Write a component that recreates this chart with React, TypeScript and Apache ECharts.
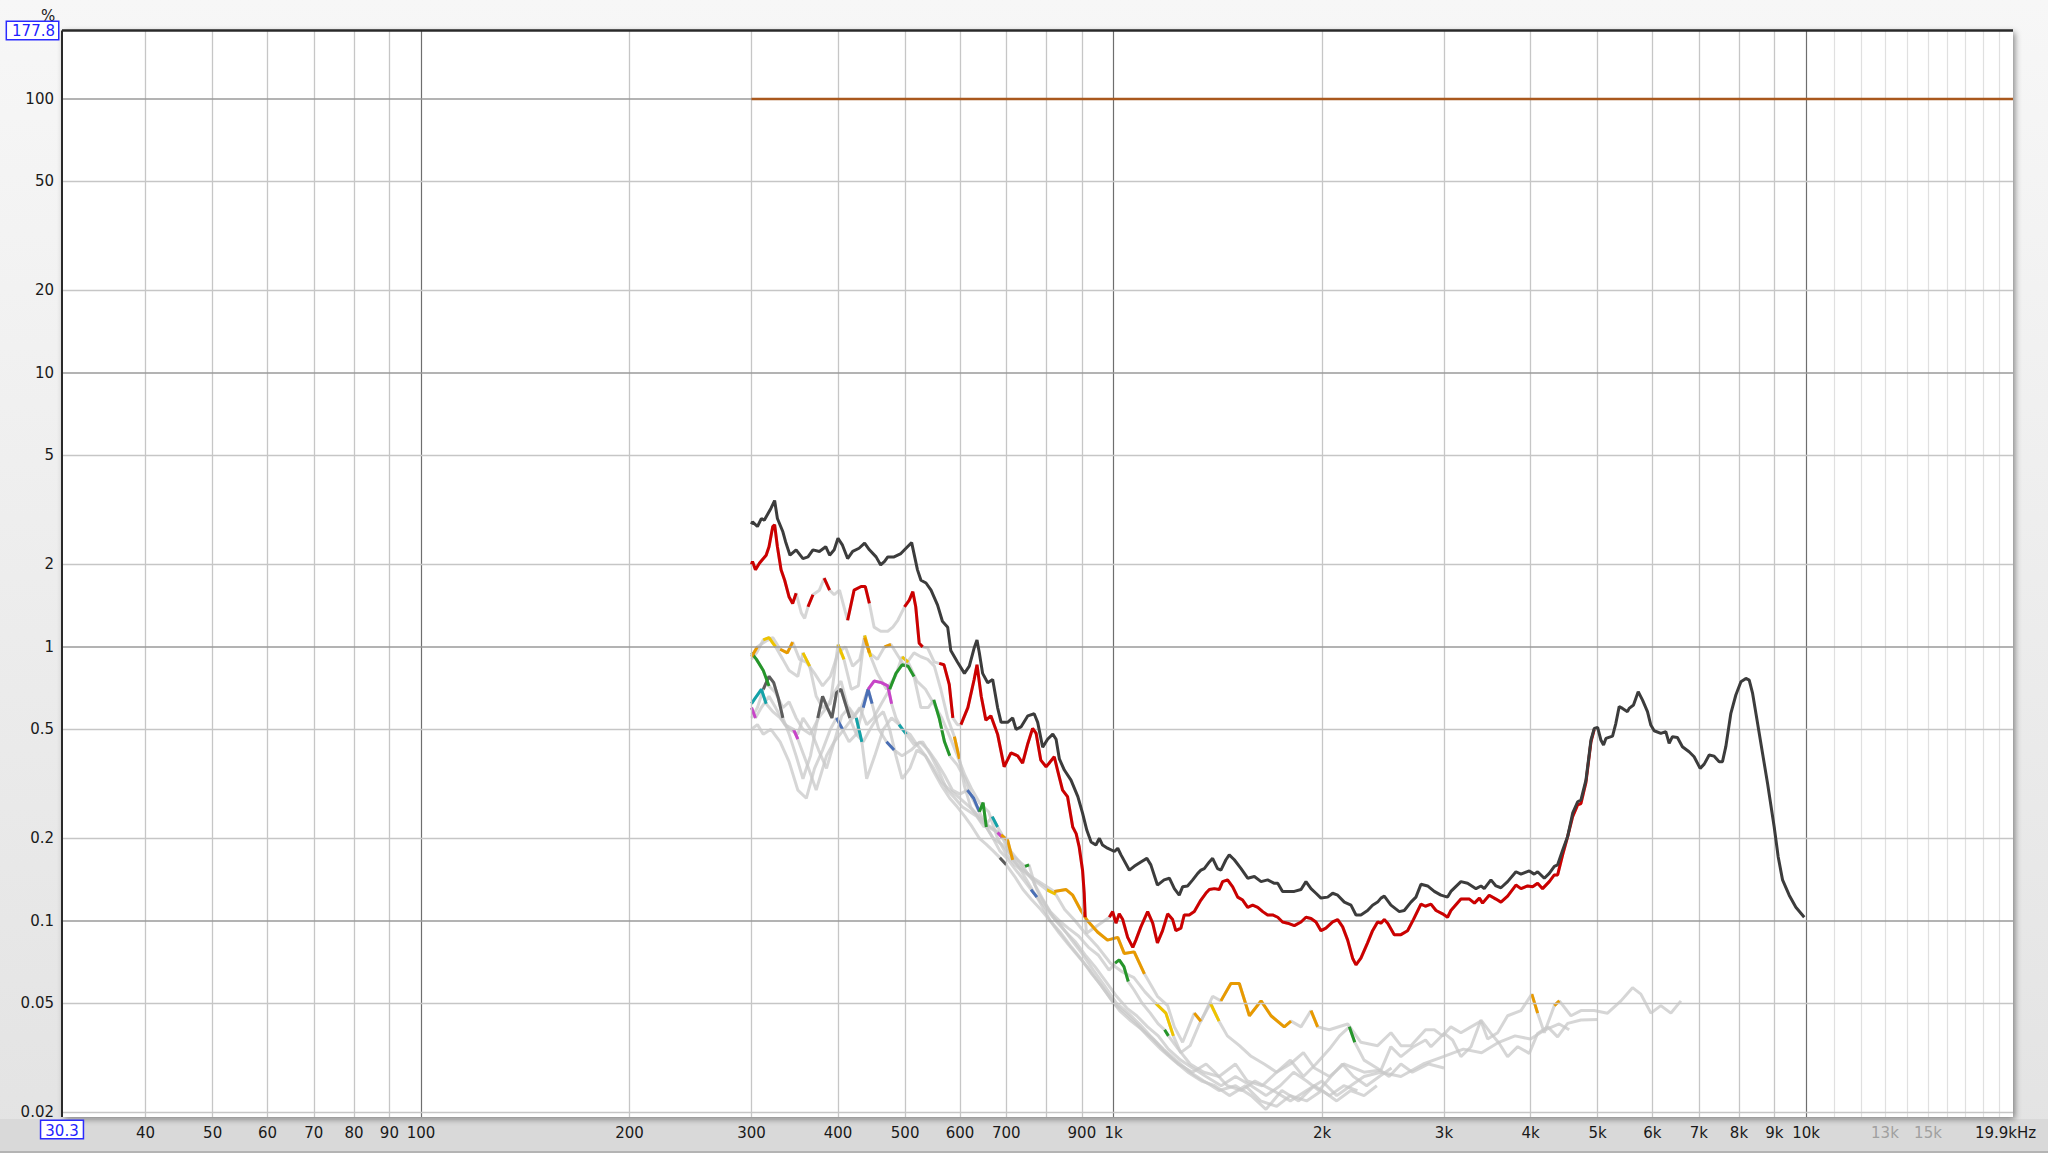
import React, { useEffect, useRef } from "react";
import * as echarts from "echarts";

const FONT = "DejaVu Sans";
const FREQ_MIN = 30.3;
const FREQ_MAX = 19900;
const PCT_MIN = 0.0192;
const PCT_MAX = 177.8;

// ---- axes: grid lines and tick labels ----
const xGridMinor = [40, 50, 60, 70, 80, 90, 200, 300, 400, 500, 600, 700, 800, 900, 2000, 3000, 4000, 5000, 6000, 7000, 8000, 9000];
const xGridDecade = [100, 1000, 10000];
const xGridFaint = [11000, 12000, 13000, 14000, 15000, 16000, 17000, 18000, 19000];
const xTickLabels: [number, string][] = [
  [40, "40"], [50, "50"], [60, "60"], [70, "70"], [80, "80"], [90, "90"], [100, "100"],
  [200, "200"], [300, "300"], [400, "400"], [500, "500"], [600, "600"], [700, "700"], [900, "900"],
  [1000, "1k"], [2000, "2k"], [3000, "3k"], [4000, "4k"], [5000, "5k"], [6000, "6k"], [7000, "7k"],
  [8000, "8k"], [9000, "9k"], [10000, "10k"],
];
const xFaintLabels: [number, string][] = [[13000, "13k"], [15000, "15k"]];
const yGridMinor = [50, 20, 5, 2, 0.5, 0.2, 0.05, 0.02];
const yGridDecade = [100, 10, 1, 0.1];
const yTickLabels: [number, string][] = [
  [100, "100"], [50, "50"], [20, "20"], [10, "10"], [5, "5"], [2, "2"], [1, "1"],
  [0.5, "0.5"], [0.2, "0.2"], [0.1, "0.1"], [0.05, "0.05"], [0.02, "0.02"],
];

// ---- series data: [frequency Hz, distortion %] ----
const FUND_LEVEL: [number, number][] = [[300, 100], [19900, 100]];

const THD: [number, number][] = [
  [300, 2.8], [301, 2.86], [306, 2.75], [310, 2.94], [313, 2.9], [317, 3.07], [320, 3.2], [324, 3.42], [327, 2.94], [333, 2.63],
  [336, 2.42], [341, 2.16], [348, 2.26], [356, 2.1], [362, 2.13], [368, 2.26], [376, 2.23], [384, 2.32], [389, 2.16], [395, 2.26],
  [400, 2.49], [406, 2.35], [413, 2.1], [420, 2.23], [429, 2.29], [437, 2.39], [444, 2.26], [454, 2.13], [461, 1.99], [467, 2.05],
  [472, 2.13], [482, 2.13], [493, 2.19], [504, 2.32], [511, 2.4], [515, 2.19], [521, 1.91], [527, 1.75], [536, 1.71], [545, 1.61],
  [557, 1.42], [566, 1.24], [576, 1.18], [582, 0.97], [595, 0.88], [609, 0.8], [619, 0.85], [629, 0.99], [635, 1.06], [640, 0.95],
  [647, 0.8], [658, 0.74], [669, 0.76], [680, 0.6], [688, 0.53], [703, 0.53], [715, 0.55], [723, 0.5], [735, 0.51], [752, 0.56],
  [768, 0.57], [777, 0.53], [790, 0.43], [803, 0.46], [817, 0.48], [826, 0.46], [835, 0.39], [849, 0.355], [868, 0.326], [888, 0.284],
  [902, 0.247], [915, 0.214], [928, 0.194], [943, 0.189], [954, 0.2], [964, 0.189], [980, 0.184], [1003, 0.179], [1014, 0.184], [1025, 0.174],
  [1054, 0.153], [1071, 0.158], [1095, 0.164], [1117, 0.169], [1132, 0.16], [1157, 0.135], [1183, 0.141], [1204, 0.143], [1224, 0.131], [1244, 0.124],
  [1258, 0.133], [1279, 0.134], [1301, 0.141], [1323, 0.149], [1337, 0.153], [1352, 0.155], [1375, 0.164], [1390, 0.169], [1413, 0.155], [1429, 0.153],
  [1453, 0.167], [1469, 0.174], [1494, 0.167], [1528, 0.155], [1562, 0.143], [1597, 0.145], [1633, 0.139], [1669, 0.141], [1707, 0.137], [1726, 0.137],
  [1754, 0.128], [1784, 0.128], [1824, 0.128], [1865, 0.13], [1896, 0.139], [1928, 0.131], [1960, 0.126], [1993, 0.121], [2038, 0.122], [2072, 0.126],
  [2107, 0.124], [2154, 0.117], [2202, 0.114], [2239, 0.105], [2276, 0.105], [2327, 0.109], [2366, 0.114], [2406, 0.117], [2433, 0.121], [2460, 0.123],
  [2515, 0.114], [2586, 0.108], [2629, 0.109], [2688, 0.117], [2733, 0.122], [2779, 0.136], [2841, 0.134], [2905, 0.128], [2970, 0.124], [3036, 0.122],
  [3070, 0.128], [3174, 0.139], [3245, 0.137], [3337, 0.131], [3393, 0.134], [3430, 0.131], [3507, 0.141], [3566, 0.134], [3626, 0.132], [3707, 0.139],
  [3811, 0.151], [3875, 0.148], [3984, 0.152], [4050, 0.148], [4096, 0.151], [4188, 0.143], [4258, 0.149], [4330, 0.158], [4378, 0.16], [4451, 0.181],
  [4526, 0.203], [4602, 0.247], [4679, 0.272], [4731, 0.276], [4810, 0.326], [4891, 0.457], [4945, 0.504], [5000, 0.508], [5055, 0.457], [5100, 0.438],
  [5140, 0.463], [5255, 0.472], [5313, 0.526], [5372, 0.605], [5432, 0.596], [5523, 0.58], [5553, 0.596], [5634, 0.613], [5723, 0.686], [5806, 0.639],
  [5902, 0.58], [5968, 0.518], [6035, 0.494], [6170, 0.483], [6273, 0.49], [6343, 0.444], [6413, 0.47], [6520, 0.467], [6629, 0.432], [6778, 0.414],
  [6892, 0.397], [7032, 0.36], [7127, 0.373], [7246, 0.403], [7368, 0.399], [7491, 0.381], [7574, 0.381], [7658, 0.432], [7788, 0.572], [7918, 0.667],
  [8053, 0.746], [8187, 0.767], [8278, 0.756], [8372, 0.676], [8511, 0.526], [8654, 0.408], [8799, 0.317], [8995, 0.22], [9116, 0.171], [9248, 0.141],
  [9455, 0.124], [9667, 0.112], [9940, 0.103],
];

const H2: [number, number][] = [
  [300, 2.0], [301, 2.05], [304, 1.91], [308, 2.02], [311, 2.08], [315, 2.16], [318, 2.32], [322, 2.75], [324, 2.79], [327, 2.32],
  [331, 1.91], [335, 1.75], [340, 1.52], [344, 1.44], [348, 1.57], [354, 1.33], [358, 1.27], [362, 1.4], [368, 1.55], [376, 1.61],
  [382, 1.78], [389, 1.61], [395, 1.55], [402, 1.61], [413, 1.25], [422, 1.61], [432, 1.66], [438, 1.66], [444, 1.44], [451, 1.18],
  [461, 1.14], [472, 1.14], [480, 1.18], [488, 1.25], [499, 1.4], [507, 1.48], [513, 1.59], [518, 1.4], [524, 1.03], [530, 1.0],
  [539, 0.99], [551, 0.88], [560, 0.87], [569, 0.86], [579, 0.73], [586, 0.55], [595, 0.52], [602, 0.52], [616, 0.6], [629, 0.76],
  [635, 0.86], [644, 0.66], [654, 0.54], [665, 0.56], [680, 0.48], [695, 0.365], [711, 0.41], [727, 0.4], [739, 0.376], [752, 0.444],
  [764, 0.504], [773, 0.483], [785, 0.386], [799, 0.365], [807, 0.376], [821, 0.397], [830, 0.355], [844, 0.3], [858, 0.284], [863, 0.261],
  [873, 0.22], [883, 0.208], [892, 0.186], [902, 0.153], [907, 0.126], [910, 0.103], [914, 0.09], [986, 0.103], [997, 0.108], [1008, 0.098],
  [1019, 0.106], [1031, 0.101], [1048, 0.087], [1066, 0.08], [1077, 0.085], [1095, 0.095], [1120, 0.108], [1139, 0.098], [1157, 0.083], [1177, 0.092],
  [1197, 0.106], [1217, 0.101], [1230, 0.092], [1251, 0.094], [1265, 0.105], [1286, 0.105], [1308, 0.108], [1337, 0.119], [1359, 0.126], [1375, 0.13],
  [1398, 0.131], [1421, 0.13], [1437, 0.139], [1461, 0.141], [1486, 0.133], [1511, 0.122], [1536, 0.119], [1562, 0.112], [1588, 0.114], [1615, 0.112],
  [1642, 0.108], [1669, 0.105], [1697, 0.105], [1726, 0.103], [1754, 0.099], [1784, 0.098], [1824, 0.096], [1865, 0.099], [1896, 0.103], [1928, 0.102],
  [1960, 0.099], [1993, 0.092], [2026, 0.094], [2072, 0.099], [2107, 0.101], [2142, 0.095], [2178, 0.085], [2214, 0.073], [2239, 0.069], [2276, 0.073],
  [2327, 0.083], [2366, 0.092], [2406, 0.099], [2433, 0.098], [2460, 0.101], [2488, 0.098], [2543, 0.089], [2600, 0.089], [2658, 0.092], [2710, 0.101],
  [2779, 0.115], [2820, 0.113], [2873, 0.115], [2922, 0.109], [2986, 0.106], [3036, 0.103], [3070, 0.109], [3174, 0.12], [3265, 0.12], [3320, 0.116],
  [3375, 0.121], [3411, 0.116], [3487, 0.124], [3566, 0.12], [3626, 0.117], [3707, 0.123], [3811, 0.135], [3875, 0.131], [3962, 0.134], [4029, 0.133],
  [4096, 0.137], [4164, 0.131], [4258, 0.139], [4330, 0.147], [4378, 0.147], [4451, 0.174], [4526, 0.203], [4602, 0.24], [4679, 0.265], [4731, 0.268],
  [4810, 0.32], [4891, 0.45], [4945, 0.5],
];
const H2_COLOURED: [number, number][] = [
  [300, 304], [308, 331], [335, 340], [344, 350], [362, 372], [380, 389], [413, 447], [497, 530], [552, 589], [602, 912], [986, 4945],
];

const H3: [number, number][] = [
  [300, 0.92], [306, 1.0], [315, 1.05], [322, 1.08], [330, 0.98], [338, 0.95], [344, 1.04], [352, 0.9], [360, 0.88], [370, 0.8],
  [380, 0.72], [390, 0.78], [400, 0.95], [410, 1.0], [420, 0.85], [430, 0.9], [437, 1.08], [444, 0.95], [456, 0.9], [467, 1.0],
  [477, 1.02], [488, 0.93], [499, 0.85], [515, 0.95], [527, 0.92], [539, 0.9], [551, 0.85], [563, 0.7], [576, 0.55], [589, 0.47],
  [599, 0.39], [609, 0.31], [622, 0.26], [644, 0.23], [665, 0.22], [688, 0.206], [703, 0.197], [715, 0.167], [760, 0.145], [821, 0.128],
  [854, 0.13], [873, 0.124], [897, 0.109], [917, 0.1], [948, 0.091], [980, 0.085], [1014, 0.087], [1036, 0.076], [1071, 0.077], [1108, 0.064],
  [1157, 0.053], [1197, 0.049], [1224, 0.041], [1258, 0.036], [1308, 0.046], [1337, 0.043], [1390, 0.053], [1429, 0.051], [1477, 0.059], [1519, 0.059],
  [1571, 0.045], [1633, 0.051], [1688, 0.045], [1764, 0.041], [1804, 0.043], [1865, 0.041], [1928, 0.047], [1971, 0.041], [2049, 0.04], [2178, 0.042],
  [2276, 0.036], [2406, 0.035], [2515, 0.039], [2600, 0.035], [2688, 0.035], [2822, 0.04], [2905, 0.04], [2986, 0.038], [3070, 0.041], [3174, 0.039],
  [3282, 0.041], [3393, 0.043], [3469, 0.037], [3586, 0.039], [3707, 0.045], [3875, 0.047], [4018, 0.054], [4096, 0.046], [4188, 0.039], [4330, 0.049],
  [4403, 0.051], [4576, 0.045], [4731, 0.047], [4945, 0.047], [5168, 0.046], [5404, 0.051], [5616, 0.057], [5774, 0.054], [5970, 0.046], [6170, 0.049],
  [6380, 0.046], [6596, 0.051],
];
const H3_COLOURED: [number, number][] = [
  [300, 312], [330, 346], [395, 404], [435, 445], [467, 480], [505, 520], [589, 605], [688, 716], [821, 990], [1014, 1108],
  [1300, 1340], [1429, 1571], [1600, 1690], [1740, 1810], [1890, 1975], [4000, 4100], [4330, 4410],
];

const H4: [number, number][] = [
  [300, 0.95], [305, 0.9], [312, 0.82], [318, 0.72], [325, 0.68], [333, 0.6], [340, 0.63], [348, 0.55], [356, 0.5], [365, 0.48],
  [375, 0.55], [385, 0.6], [395, 0.68], [404, 0.75], [412, 0.62], [420, 0.55], [430, 0.6], [440, 0.52], [450, 0.55], [462, 0.62],
  [475, 0.7], [485, 0.8], [495, 0.86], [505, 0.85], [515, 0.78], [527, 0.6], [540, 0.6], [550, 0.64], [560, 0.55], [570, 0.45],
  [580, 0.4], [595, 0.37], [610, 0.33], [625, 0.28], [640, 0.25], [648, 0.27], [655, 0.22], [670, 0.2], [690, 0.19], [710, 0.175],
  [730, 0.165], [745, 0.158], [755, 0.16], [770, 0.135], [790, 0.12], [810, 0.108], [835, 0.1], [860, 0.094], [890, 0.088], [920, 0.08],
  [950, 0.075], [985, 0.066], [1005, 0.07], [1019, 0.072], [1035, 0.068], [1050, 0.06], [1070, 0.056], [1100, 0.05], [1130, 0.046], [1160, 0.042],
  [1185, 0.04], [1200, 0.038], [1240, 0.034], [1290, 0.03], [1350, 0.028], [1420, 0.027], [1500, 0.03], [1560, 0.026], [1640, 0.025], [1720, 0.028],
  [1800, 0.031], [1880, 0.027], [1960, 0.03], [2050, 0.034], [2120, 0.038], [2190, 0.041], [2230, 0.036], [2300, 0.031], [2400, 0.029], [2500, 0.027],
  [2600, 0.03], [2700, 0.028], [2850, 0.03], [3000, 0.029],
];
const H4_COLOURED: [number, number][] = [
  [300, 318], [475, 520], [545, 580], [640, 656], [745, 760], [1000, 1060], [1180, 1200], [2190, 2230],
];

const H5: [number, number][] = [
  [300, 0.9], [305, 0.95], [312, 1.06], [318, 1.08], [325, 1.0], [333, 0.9], [340, 0.82], [350, 0.78], [356, 0.95], [364, 0.85],
  [372, 0.66], [380, 0.6], [390, 0.62], [400, 1.02], [408, 0.9], [418, 0.7], [428, 0.72], [437, 1.1], [446, 0.92], [456, 0.8],
  [470, 0.7], [484, 0.78], [495, 0.92], [505, 0.88], [520, 0.75], [535, 0.7], [550, 0.62], [565, 0.55], [580, 0.47], [595, 0.4],
  [610, 0.34], [625, 0.3], [640, 0.27], [660, 0.25], [680, 0.2], [700, 0.175], [720, 0.16], [745, 0.15], [770, 0.14], [800, 0.13],
  [825, 0.125], [850, 0.11], [880, 0.1], [910, 0.09], [950, 0.08], [990, 0.07], [1030, 0.065], [1070, 0.062], [1110, 0.055], [1150, 0.05],
  [1190, 0.046], [1220, 0.038], [1250, 0.033], [1290, 0.035], [1330, 0.042], [1380, 0.05], [1420, 0.043], [1460, 0.038], [1520, 0.035], [1580, 0.032],
  [1650, 0.03], [1720, 0.028], [1800, 0.03], [1880, 0.033], [1950, 0.029], [2050, 0.027], [2150, 0.03], [2300, 0.028], [2433, 0.0285], [2515, 0.0347],
  [2600, 0.0319], [2710, 0.0347], [2822, 0.0367], [2873, 0.0347], [3003, 0.0388], [3087, 0.0367], [3174, 0.0319], [3282, 0.0347], [3393, 0.0434], [3507, 0.0388],
  [3604, 0.0357], [3707, 0.0319], [3834, 0.0347], [3984, 0.0328], [4096, 0.0388], [4236, 0.041], [4378, 0.0377], [4526, 0.0422], [4731, 0.0434], [5000, 0.0436],
];
const H5_COLOURED: [number, number][] = [
  [312, 325], [356, 364], [400, 410], [437, 446], [495, 508], [800, 830], [940, 960], [1140, 1160], [1190, 1230], [1380, 1420],
];

const H6: [number, number][] = [
  [300, 0.62], [305, 0.66], [310, 0.7], [315, 0.62], [322, 0.58], [330, 0.55], [340, 0.5], [350, 0.48], [356, 0.55], [365, 0.5],
  [375, 0.42], [385, 0.36], [395, 0.45], [405, 0.56], [415, 0.6], [425, 0.55], [433, 0.45], [440, 0.33], [452, 0.4], [465, 0.5],
  [478, 0.55], [490, 0.52], [502, 0.48], [515, 0.44], [530, 0.45], [545, 0.4], [560, 0.35], [575, 0.3], [590, 0.28], [605, 0.26],
  [620, 0.25], [635, 0.24], [650, 0.22], [668, 0.24], [680, 0.22], [695, 0.2], [710, 0.18], [730, 0.165], [750, 0.15], [765, 0.14],
  [780, 0.125], [800, 0.113], [825, 0.1], [850, 0.092], [880, 0.084], [910, 0.075], [940, 0.068], [975, 0.06], [1010, 0.053], [1045, 0.048],
  [1080, 0.045], [1120, 0.041], [1160, 0.038], [1200, 0.034], [1250, 0.031], [1300, 0.029], [1360, 0.027], [1430, 0.025], [1500, 0.027], [1580, 0.025],
  [1660, 0.023], [1740, 0.025], [1820, 0.028], [1900, 0.026], [1980, 0.024], [2060, 0.027], [2140, 0.03], [2220, 0.027], [2320, 0.025], [2420, 0.027],
  [2520, 0.029],
];
const H6_COLOURED: [number, number][] = [[300, 315], [352, 358], [425, 435], [490, 502], [668, 680], [760, 775], [1040, 1050]];

const H7: [number, number][] = [
  [300, 0.6], [304, 0.55], [310, 0.6], [318, 0.66], [325, 0.6], [335, 0.52], [345, 0.5], [350, 0.46], [360, 0.38], [372, 0.3],
  [385, 0.4], [395, 0.45], [408, 0.5], [420, 0.55], [432, 0.6], [442, 0.7], [451, 0.75], [462, 0.74], [472, 0.72], [478, 0.62],
  [485, 0.55], [495, 0.5], [508, 0.48], [520, 0.44], [535, 0.4], [550, 0.36], [565, 0.32], [580, 0.3], [600, 0.28], [620, 0.26],
  [640, 0.24], [660, 0.22], [680, 0.21], [692, 0.2], [705, 0.18], [720, 0.165], [738, 0.15], [750, 0.14], [770, 0.125], [790, 0.115],
  [815, 0.104], [840, 0.096], [870, 0.085], [900, 0.076], [935, 0.066], [970, 0.058], [1010, 0.05], [1050, 0.046], [1090, 0.042], [1130, 0.038],
  [1180, 0.034], [1230, 0.031], [1290, 0.028], [1350, 0.026], [1420, 0.024], [1500, 0.025], [1580, 0.023], [1660, 0.0205], [1750, 0.024], [1850, 0.022],
  [1950, 0.025], [2050, 0.023], [2150, 0.025], [2250, 0.024],
];
const H7_COLOURED: [number, number][] = [[300, 306], [345, 352], [442, 480], [680, 692], [735, 745]];

const H8: [number, number][] = [
  [300, 0.55], [306, 0.6], [312, 0.7], [318, 0.78], [323, 0.74], [328, 0.65], [333, 0.55], [340, 0.48], [348, 0.4], [356, 0.33],
  [365, 0.4], [374, 0.55], [380, 0.66], [386, 0.6], [392, 0.55], [398, 0.68], [404, 0.7], [410, 0.62], [416, 0.55], [425, 0.48],
  [435, 0.45], [445, 0.5], [455, 0.55], [465, 0.58], [475, 0.5], [485, 0.4], [495, 0.33], [508, 0.36], [520, 0.42], [535, 0.4],
  [550, 0.35], [565, 0.31], [580, 0.28], [595, 0.26], [610, 0.24], [625, 0.22], [640, 0.2], [655, 0.19], [670, 0.18], [685, 0.17],
  [700, 0.16], [720, 0.145], [740, 0.13], [760, 0.12], [785, 0.11], [810, 0.1], [840, 0.09], [870, 0.08], [900, 0.072], [930, 0.064],
  [960, 0.058], [1000, 0.05], [1040, 0.046], [1080, 0.042], [1120, 0.038], [1170, 0.034], [1220, 0.031], [1280, 0.028], [1340, 0.026], [1400, 0.025],
  [1470, 0.023], [1550, 0.025], [1630, 0.022], [1720, 0.021], [1800, 0.023], [1900, 0.022], [2000, 0.024], [2100, 0.022], [2200, 0.024], [2300, 0.023],
  [2400, 0.025],
];
const H8_COLOURED: [number, number][] = [[312, 333], [374, 392], [398, 416], [685, 700], [1300, 1310]];

const H9: [number, number][] = [
  [300, 0.5], [306, 0.52], [312, 0.48], [320, 0.5], [330, 0.45], [340, 0.38], [350, 0.3], [360, 0.28], [370, 0.36], [380, 0.42],
  [390, 0.5], [398, 0.55], [406, 0.5], [415, 0.45], [425, 0.48], [435, 0.6], [442, 0.7], [448, 0.62], [458, 0.5], [470, 0.45],
  [482, 0.42], [495, 0.4], [510, 0.42], [525, 0.45], [540, 0.42], [555, 0.38], [570, 0.34], [585, 0.3], [600, 0.29], [615, 0.3],
  [628, 0.28], [640, 0.25], [655, 0.22], [670, 0.2], [685, 0.18], [700, 0.17], [720, 0.155], [740, 0.142], [760, 0.13], [775, 0.122],
  [790, 0.112], [810, 0.1], [835, 0.09], [860, 0.082], [890, 0.074], [920, 0.067], [950, 0.06], [985, 0.053], [1020, 0.047], [1060, 0.043],
  [1100, 0.04], [1140, 0.037], [1190, 0.033], [1240, 0.03], [1300, 0.028], [1360, 0.03], [1400, 0.028], [1460, 0.025], [1530, 0.024], [1600, 0.026],
  [1700, 0.024], [1800, 0.022], [1900, 0.024], [2000, 0.026], [2100, 0.023], [2200, 0.025], [2300, 0.027], [2430, 0.028], [2600, 0.027], [2800, 0.03],
  [3000, 0.032], [3200, 0.034], [3400, 0.033], [3600, 0.036], [3800, 0.038], [4000, 0.037], [4200, 0.04], [4400, 0.042], [4550, 0.04],
];
const H9_COLOURED: [number, number][] = [[395, 406], [435, 448], [470, 482], [615, 640], [760, 775], [1130, 1145], [1360, 1370], [2430, 2450]];

const HARMONICS: { name: string; colour: string; pts: [number, number][]; ranges: [number, number][] }[] = [
  { name: "H9", colour: "#4a6fb5", pts: H9, ranges: H9_COLOURED },
  { name: "H8", colour: "#5c5c5c", pts: H8, ranges: H8_COLOURED },
  { name: "H7", colour: "#c844c8", pts: H7, ranges: H7_COLOURED },
  { name: "H6", colour: "#13a2a8", pts: H6, ranges: H6_COLOURED },
  { name: "H5", colour: "#eec400", pts: H5, ranges: H5_COLOURED },
  { name: "H4", colour: "#25962a", pts: H4, ranges: H4_COLOURED },
  { name: "H3", colour: "#e89a00", pts: H3, ranges: H3_COLOURED },
];

const GREY = "rgba(200,200,200,0.75)";

function colouredOnly(pts: [number, number][], ranges: [number, number][]) {
  return pts.map(([f, v]) => (ranges.some(([a, b]) => f >= a && f <= b) ? [f, v] : [f, null]));
}

function buildGridLines() {
  const lbl = (text: string, colour: string) => ({
    show: true, position: "start", distance: 8, formatter: text, color: colour,
    fontSize: 15, fontFamily: FONT,
  });
  const xLabel = new Map(xTickLabels);
  const xFaint = new Map(xFaintLabels);
  const yLabel = new Map(yTickLabels);
  const items: any[] = [];
  xGridMinor.forEach((f) => items.push({
    xAxis: f, lineStyle: { color: "#c6c6c6", width: 1.3, type: "solid" },
    label: xLabel.has(f) ? lbl(xLabel.get(f)!, "#1a1a1a") : { show: false },
  }));
  xGridFaint.forEach((f) => items.push({
    xAxis: f, lineStyle: { color: "#e0e0e0", width: 1.2, type: "solid" },
    label: xFaint.has(f) ? lbl(xFaint.get(f)!, "#a0a0a0") : { show: false },
  }));
  xGridDecade.forEach((f) => items.push({
    xAxis: f, lineStyle: { color: "#6e6e6e", width: 1.2, type: "solid" },
    label: lbl(xLabel.get(f)!, "#1a1a1a"),
  }));
  yGridMinor.forEach((v) => items.push({
    yAxis: v, lineStyle: { color: "#c6c6c6", width: 1.3, type: "solid" },
    label: lbl(yLabel.get(v)!, "#1a1a1a"),
  }));
  yGridDecade.forEach((v) => items.push({
    yAxis: v, lineStyle: { color: "#9a9a9a", width: 1.6, type: "solid" },
    label: lbl(yLabel.get(v)!, "#1a1a1a"),
  }));
  // frame edges with the boxed range labels
  items.push({
    xAxis: FREQ_MIN, lineStyle: { color: "#2a2a2a", width: 2, type: "solid" },
    label: {
      show: true, position: "start", distance: 4, formatter: "30.3", color: "#1f1fff",
      fontSize: 15, fontFamily: FONT, backgroundColor: "#ffffff", borderColor: "#2a2aff",
      borderWidth: 1.5, padding: [2, 4, 0, 4],
    },
  });
  items.push({
    yAxis: PCT_MAX, lineStyle: { color: "#2a2a2a", width: 2.5, type: "solid" },
    label: {
      show: true, position: "start", distance: 4, formatter: "177.8", color: "#1f1fff",
      fontSize: 15, fontFamily: FONT, backgroundColor: "#ffffff", borderColor: "#2a2aff",
      borderWidth: 1.5, padding: [2, 3, 0, 5],
    },
  });
  items.push({
    xAxis: FREQ_MAX, lineStyle: { color: "rgba(0,0,0,0)", width: 0.1, type: "solid" },
    label: {
      show: true, position: "start", distance: 8, formatter: "19.9kHz", color: "#1a1a1a",
      fontSize: 15, fontFamily: FONT, padding: [0, 15, 0, 0],
    },
  });
  return items;
}

export default function App() {
  const ref = useRef<HTMLDivElement>(null);
  useEffect(() => {
    document.body.style.margin = "0";
    const chart = echarts.init(ref.current!, undefined, { renderer: "svg" });
    const series: any[] = [];
    series.push({
      type: "line", name: "grid", data: [], z: 1, silent: true,
      markLine: { silent: true, symbol: ["none", "none"], animation: false, precision: 4, data: buildGridLines() },
    });
    HARMONICS.forEach((h) => series.push({
      type: "line", name: h.name + " base", data: h.pts, z: 3, showSymbol: false, symbol: "none",
      lineStyle: { color: GREY, width: 3 }, itemStyle: { color: GREY },
    }));
    series.push({
      type: "line", name: "H2 base", data: H2, z: 3, symbol: "none",
      lineStyle: { color: GREY, width: 3 },
    });
    HARMONICS.forEach((h) => series.push({
      type: "line", name: h.name, data: colouredOnly(h.pts, h.ranges), z: 4, symbol: "none",
      connectNulls: false, lineStyle: { color: h.colour, width: 3 }, itemStyle: { color: h.colour },
    }));
    series.push({
      type: "line", name: "H2", data: colouredOnly(H2, H2_COLOURED), z: 5, symbol: "none",
      connectNulls: false, lineStyle: { color: "#cc0000", width: 3 },
    });
    series.push({
      type: "line", name: "THD", data: THD, z: 6, symbol: "none",
      lineStyle: { color: "#3c3c3c", width: 3 },
    });
    series.push({
      type: "line", name: "Fundamental", data: FUND_LEVEL, z: 6, symbol: "none",
      lineStyle: { color: "#a9581d", width: 2.5 },
    });

    chart.setOption({
      animation: false,
      textStyle: { fontFamily: FONT },
      grid: {
        left: 62, top: 30.5, width: 1951, height: 1086.6, show: true,
        backgroundColor: "#ffffff", borderWidth: 0,
        shadowColor: "rgba(0,0,0,0.45)", shadowBlur: 6, shadowOffsetX: 2, shadowOffsetY: 2,
      },
      xAxis: {
        type: "log", logBase: 10, min: FREQ_MIN, max: FREQ_MAX,
        axisLine: { show: false }, axisTick: { show: false }, axisLabel: { show: false }, splitLine: { show: false },
      },
      yAxis: {
        type: "log", logBase: 10, min: PCT_MIN, max: PCT_MAX,
        axisLine: { show: false }, axisTick: { show: false }, axisLabel: { show: false }, splitLine: { show: false },
      },
      graphic: [
        { type: "rect", z: -10, shape: { x: 0, y: 1119, width: 2048, height: 32 }, style: { fill: "#d9d9d9" }, silent: true },
        { type: "rect", z: -10, shape: { x: 0, y: 1151, width: 2048, height: 2 }, style: { fill: "#b4b4b4" }, silent: true },
        { type: "text", left: 41, top: 8, style: { text: "%", font: "15px 'DejaVu Sans'", fill: "#1a1a1a" }, silent: true },
      ],
      series,
    });
    return () => chart.dispose();
  }, []);
  return (
    <div
      ref={ref}
      style={{
        position: "fixed", left: 0, top: 0, width: 2048, height: 1153,
        background: "linear-gradient(#f7f7f7, #e3e3e3)",
      }}
    />
  );
}
